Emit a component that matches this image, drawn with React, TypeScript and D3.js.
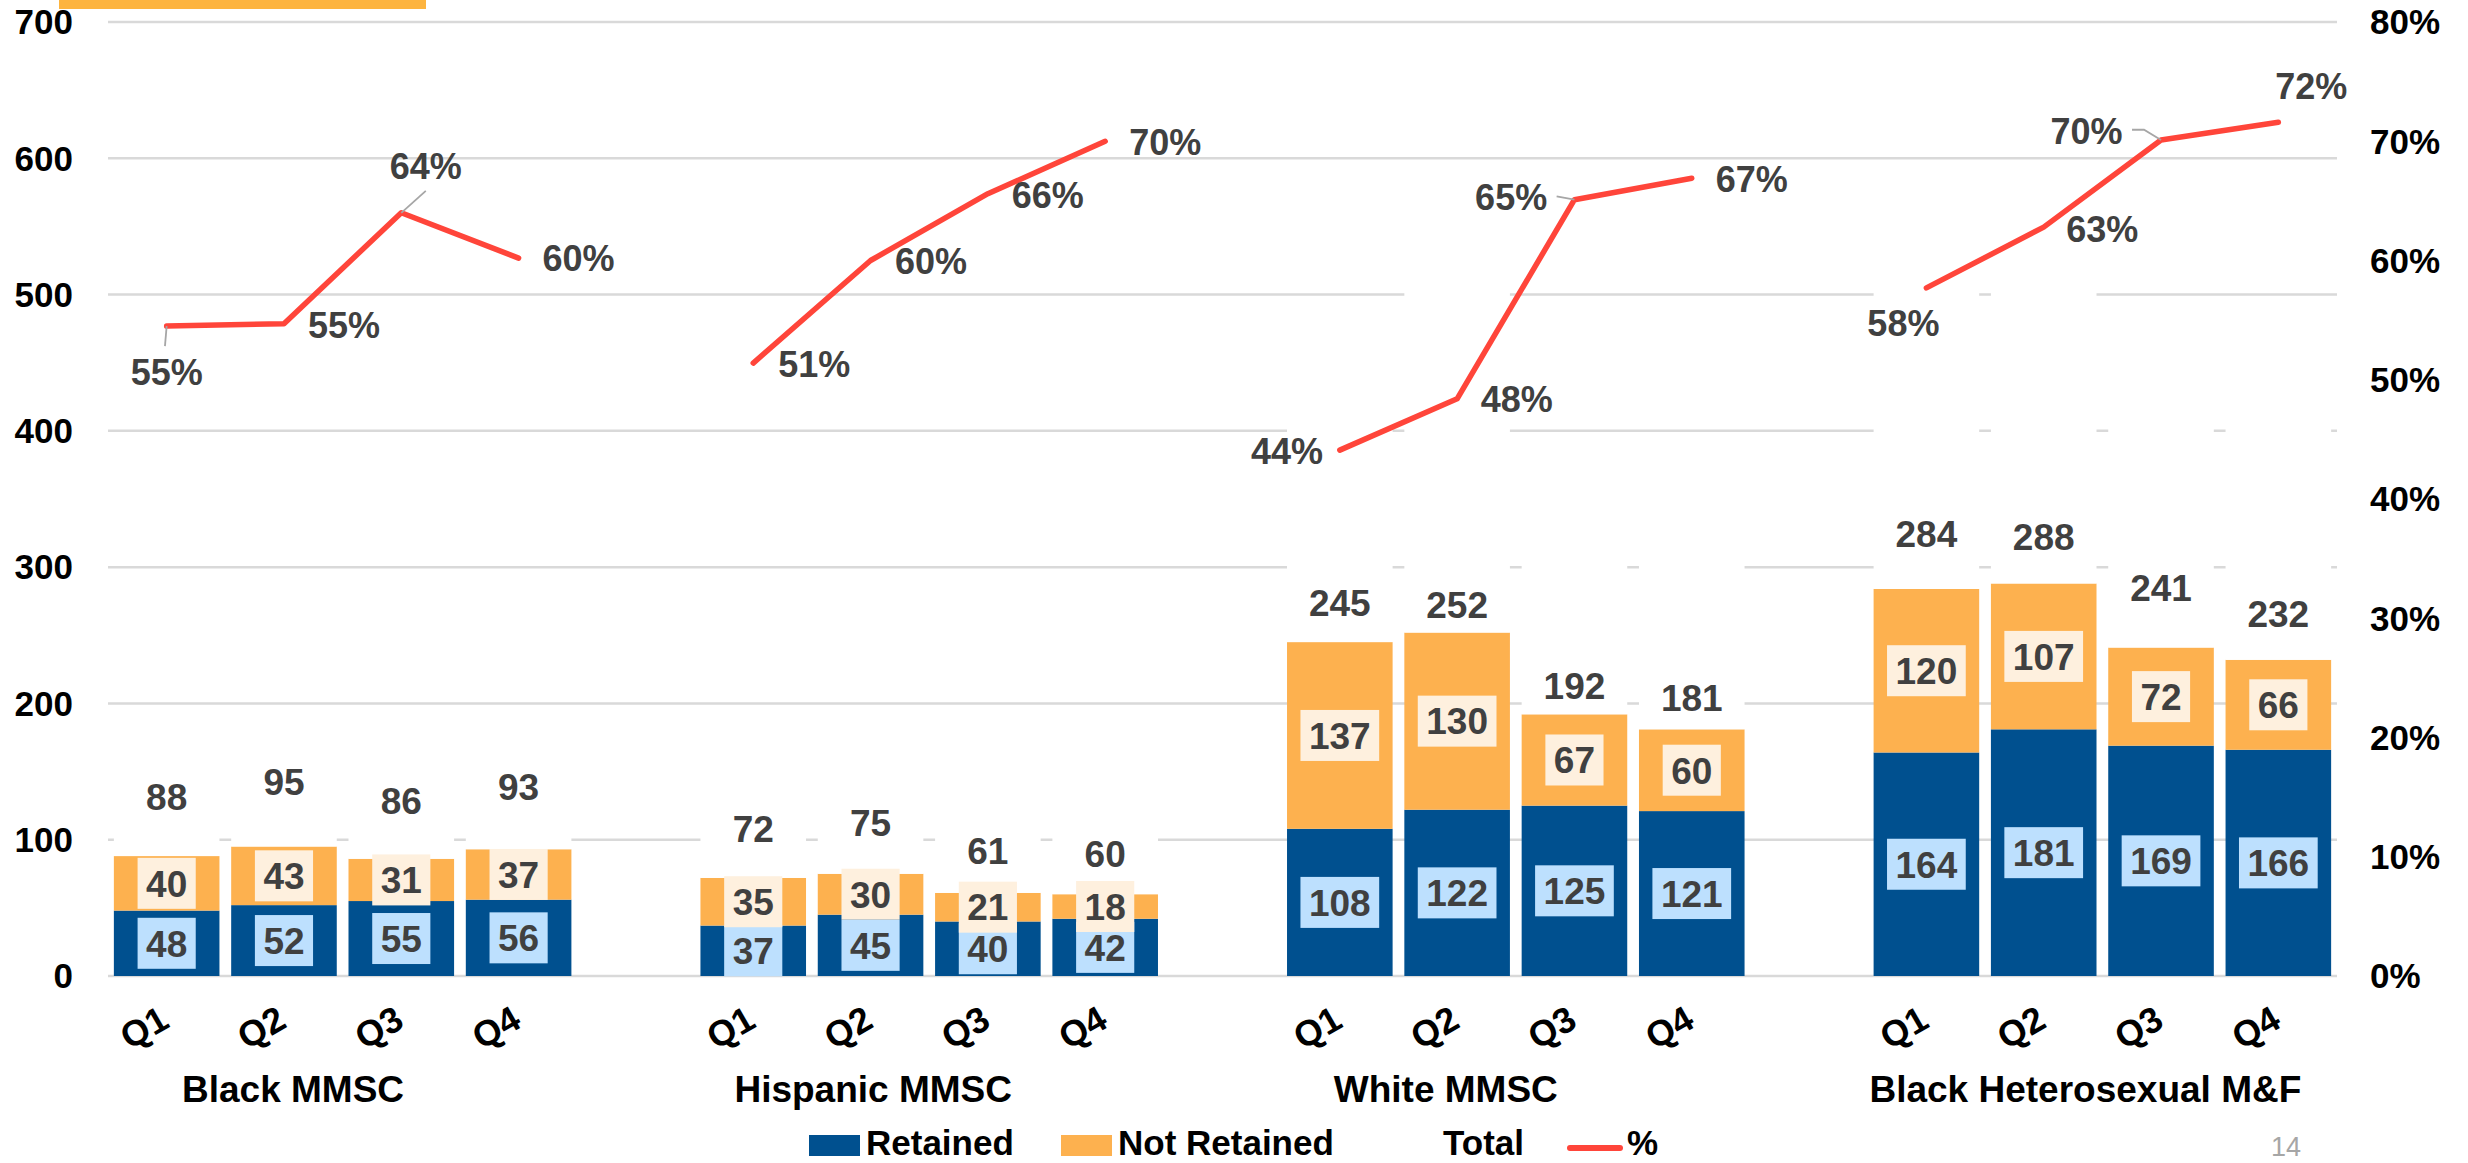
import React from "react";
import * as d3 from "d3";

// ---------- data ----------
const groups = ["Black MMSC", "Hispanic MMSC", "White MMSC", "Black Heterosexual M&F"];
const quarters = ["Q1", "Q2", "Q3", "Q4"];
const retained = [48, 52, 55, 56, 37, 45, 40, 42, 108, 122, 125, 121, 164, 181, 169, 166];
const notRetained = [40, 43, 31, 37, 35, 30, 21, 18, 137, 130, 67, 60, 120, 107, 72, 66];
const totals = [88, 95, 86, 93, 72, 75, 61, 60, 245, 252, 192, 181, 284, 288, 241, 232];
const pctRetained = [54.5, 54.7, 64.0, 60.2, 51.4, 60.0, 65.6, 70.0, 44.1, 48.4, 65.1, 66.9, 57.7, 62.8, 70.1, 71.6];
const leftTicks = [0, 100, 200, 300, 400, 500, 600, 700];
const rightTicks = [0, 0.1, 0.2, 0.3, 0.4, 0.5, 0.6, 0.7, 0.8];
const legendLabels = ["Retained", "Not Retained", "Total", "%"];

// ---------- layout (label nudges, px) ----------
const pctLabelNudge: [number, number][] = [
  [0, 46], [60, 1], [24.5, -46.7], [60, 0],
  [61, 1], [60.5, 1], [60, 1.3], [60, 1],
  [-52.7, 1], [59.7, 0.7], [-63.3, -3], [60, 0.7],
  [-23, 35], [58.5, 2], [-74.6, -8.6], [33, -36],
];
const pctLeaders: Record<number, [number, number][]> = {
  0: [[0, 0], [-1.7, 20]],
  2: [[0, 0], [24.5, -22]],
  10: [[0, 0], [-17.8, -3.3]],
  14: [[0, 0], [-17, -10.3], [-29, -10.3]],
};
const totalLabelLift = [59, 64.5, 58, 63, 49, 51, 42, 41, 39, 28, 29, 32, 55, 47, 59.5, 46];
const groupLabelNudge = [-49.6, -56, -70, -17];

const W = 2468;
const H = 1163;
const FONT = '"Liberation Sans", Arial, Helvetica, sans-serif';
const C_RET = "#00508F";
const C_NOT = "#FDB14F";
const C_RET_BOX = "#BDE0FE";
const C_NOT_BOX = "#FEF0DE";
const C_LINE = "#FF453A";
const C_LABEL = "#404040";

export default function App() {
  // slots: 4 per group with an empty slot between groups
  const slots: string[] = [];
  const slotOf: number[] = [];
  groups.forEach((g, gi) => {
    quarters.forEach((q) => {
      slotOf.push(slots.length);
      slots.push(`${g}|${q}`);
    });
    if (gi < groups.length - 1) slots.push(`gap${gi}`);
  });

  const x = d3.scaleBand<string>().domain(slots).range([108, 2337]).paddingInner(0.1).paddingOuter(0.05);
  const y = d3.scaleLinear().domain([0, 700]).range([976, 22]);
  const yR = d3.scaleLinear().domain([0, 0.8]).range([976, 22]);
  const bw = x.bandwidth();

  const idx = d3.range(totals.length);
  const xc = (i: number) => (x(slots[slotOf[i]]) as number) + bw / 2;

  const line = d3
    .line<number>()
    .x((i) => xc(i))
    .y((i) => yR(pctRetained[i] / 100));

  const boxW = (s: string) => s.length * 0.556 * 37 + 17;
  const BOX_H = 51;

  const groupCenter = (gi: number) => {
    const a = x(slots[slotOf[gi * 4]]) as number;
    const b = (x(slots[slotOf[gi * 4 + 3]]) as number) + bw;
    return (a + b) / 2;
  };

  return (
    <div style={{ position: "absolute", left: 0, top: 0, width: W, height: H, background: "#fff" }}>
      <svg width={W} height={H} style={{ display: "block", fontFamily: FONT }}>
        <rect x={0} y={0} width={W} height={H} fill="#fff" />
        {/* top decorative bar */}
        <rect x={59} y={0} width={367} height={9} fill="#FDB43F" />

        {/* gridlines */}
        {leftTicks.map((t) => (
          <line key={t} x1={108} x2={2337} y1={y(t)} y2={y(t)} stroke="#D9D9D9" strokeWidth={2.5} />
        ))}

        {/* left axis labels */}
        {leftTicks.map((t) => (
          <text key={t} x={73} y={y(t)} dy="0.35em" textAnchor="end" fontSize={35} fontWeight="bold" fill="#000">
            {t}
          </text>
        ))}
        {/* right axis labels */}
        {rightTicks.map((t) => (
          <text key={t} x={2370} y={yR(t)} dy="0.35em" textAnchor="start" fontSize={35} fontWeight="bold" fill="#000">
            {d3.format(".0%")(t)}
          </text>
        ))}

        {/* bars */}
        {idx.map((i) => {
          const x0 = x(slots[slotOf[i]]) as number;
          return (
            <g key={i}>
              <rect x={x0} width={bw} y={y(retained[i])} height={y(0) - y(retained[i])} fill={C_RET} />
              <rect
                x={x0}
                width={bw}
                y={y(retained[i] + notRetained[i])}
                height={y(retained[i]) - y(retained[i] + notRetained[i])}
                fill={C_NOT}
              />
              {/* invisible "Total" stacked series (white) */}
              <rect
                x={x0}
                width={bw}
                y={y(Math.min(700, totals[i] * 2))}
                height={y(totals[i]) - y(Math.min(700, totals[i] * 2))}
                fill="#fff"
              />
            </g>
          );
        })}

        {/* retained labels */}
        {idx.map((i) => {
          const cy = y(retained[i] / 2);
          const s = String(retained[i]);
          const w = boxW(s);
          return (
            <g key={i}>
              <rect x={xc(i) - w / 2} y={cy - BOX_H / 2} width={w} height={BOX_H} fill={C_RET_BOX} />
              <text x={xc(i)} y={cy} dy="0.36em" textAnchor="middle" fontSize={37} fontWeight="bold" fill={C_LABEL}>
                {s}
              </text>
            </g>
          );
        })}
        {/* not retained labels */}
        {idx.map((i) => {
          const cy = y(retained[i] + notRetained[i] / 2);
          const s = String(notRetained[i]);
          const w = boxW(s);
          return (
            <g key={i}>
              <rect x={xc(i) - w / 2} y={cy - BOX_H / 2} width={w} height={BOX_H} fill={C_NOT_BOX} />
              <text x={xc(i)} y={cy} dy="0.36em" textAnchor="middle" fontSize={37} fontWeight="bold" fill={C_LABEL}>
                {s}
              </text>
            </g>
          );
        })}
        {/* total labels */}
        {idx.map((i) => (
          <text
            key={i}
            x={xc(i)}
            y={y(totals[i]) - totalLabelLift[i]}
            dy="0.36em"
            textAnchor="middle"
            fontSize={37}
            fontWeight="bold"
            fill={C_LABEL}
          >
            {totals[i]}
          </text>
        ))}

        {/* % line per group */}
        {groups.map((g, gi) => (
          <path
            key={g}
            d={line(d3.range(gi * 4, gi * 4 + 4)) || ""}
            fill="none"
            stroke={C_LINE}
            strokeWidth={5.5}
            strokeLinecap="round"
            strokeLinejoin="round"
          />
        ))}

        {/* leader lines */}
        {Object.entries(pctLeaders).map(([k, pts]) => {
          const i = +k;
          const px = xc(i);
          const py = yR(pctRetained[i] / 100);
          return (
            <polyline
              key={k}
              points={pts.map(([dx, dy]) => `${px + dx},${py + dy}`).join(" ")}
              fill="none"
              stroke="#A6A6A6"
              strokeWidth={1.8}
            />
          );
        })}

        {/* % labels */}
        {idx.map((i) => (
          <text
            key={i}
            x={xc(i) + pctLabelNudge[i][0]}
            y={yR(pctRetained[i] / 100) + pctLabelNudge[i][1]}
            dy="0.36em"
            textAnchor="middle"
            fontSize={36}
            fontWeight="bold"
            fill={C_LABEL}
          >
            {d3.format(".0f")(pctRetained[i]) + "%"}
          </text>
        ))}

        {/* quarter labels */}
        {idx.map((i) => {
          const px = xc(i) - 2;
          const py = 1015;
          return (
            <text
              key={i}
              x={px}
              y={py}
              dy="0.36em"
              textAnchor="end"
              fontSize={36}
              fontWeight="bold"
              fill="#000"
              transform={`rotate(-30 ${px} ${py})`}
            >
              {quarters[i % 4]}
            </text>
          );
        })}

        {/* group labels */}
        {groups.map((g, gi) => (
          <text
            key={g}
            x={groupCenter(gi) + groupLabelNudge[gi]}
            y={1102}
            textAnchor="middle"
            fontSize={37}
            fontWeight="bold"
            fill="#000"
          >
            {g}
          </text>
        ))}

        {/* legend */}
        <g fontSize={35} fontWeight="bold" fill="#000">
          <rect x={809} y={1135} width={51} height={21} fill={C_RET} />
          <text x={866} y={1155}>{legendLabels[0]}</text>
          <rect x={1061} y={1135} width={51} height={21} fill={C_NOT} />
          <text x={1118} y={1155}>{legendLabels[1]}</text>
          <text x={1443} y={1155}>{legendLabels[2]}</text>
          <line x1={1570} x2={1620} y1={1148} y2={1148} stroke={C_LINE} strokeWidth={6} strokeLinecap="round" />
          <text x={1627} y={1155}>{legendLabels[3]}</text>
        </g>

        {/* page number */}
        <text x={2271} y={1156} fontSize={27} fill="#A6A6A6">
          14
        </text>
      </svg>
    </div>
  );
}
